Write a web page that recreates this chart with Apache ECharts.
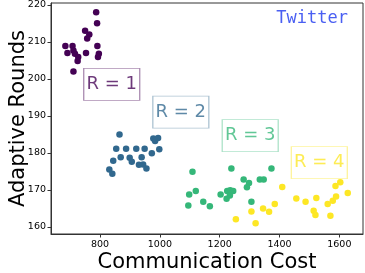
<!DOCTYPE html>
<html>
<head>
<meta charset="utf-8">
<script src="https://cdn.jsdelivr.net/npm/echarts@6/dist/echarts.min.js"></script>
<style>html,body{margin:0;padding:0;background:#fff}#c{width:365px;height:273px}</style>
</head>
<body>
<div id="c"></div>
<script>
// ---- data ----
var xTicks = [800, 1000, 1200, 1400, 1600];
var yTicks = [160, 170, 180, 190, 200, 210, 220];
var xLabel = 'Communication Cost';
var yLabel = 'Adaptive Rounds';
var datasetName = 'Twitter';
var groupNames = ['R = 1', 'R = 2', 'R = 3', 'R = 4'];
var groupColors = ['#440154', '#31688e', '#35b779', '#fde725'];
var groupText = ['rgba(68,1,84,0.78)', 'rgba(49,104,142,0.78)', 'rgba(53,183,121,0.78)', 'rgba(253,231,37,0.78)'];
var groupBorders = ['rgba(68,1,84,0.45)', 'rgba(49,104,142,0.4)', 'rgba(53,183,121,0.4)', 'rgba(253,231,37,0.45)'];

var r1x = [787, 790, 750, 764, 757, 791, 684, 708, 691, 711, 716, 796, 793, 753, 727, 725, 711];
var r1y = [218.0, 215.0, 213.0, 212.0, 210.9, 208.9, 208.9, 208.9, 207.0, 207.7, 206.8, 206.8, 205.9, 207.0, 205.9, 204.8, 202.0];

var r2x = [865, 978, 984, 994, 854, 887, 921, 949, 998, 973, 844, 869, 899, 906, 939, 930, 944, 955, 831, 841];
var r2y = [185.0, 183.9, 183.2, 184.0, 181.1, 181.1, 181.1, 181.1, 181.0, 179.9, 177.9, 178.8, 178.7, 177.6, 178.8, 176.8, 176.9, 175.8, 175.5, 174.4];

var r3x = [1109, 1239, 1373, 1280, 1298, 1291, 1334, 1347, 1098, 1120, 1095, 1145, 1167, 1203, 1225, 1235, 1245, 1223, 1234, 1306];
var r3y = [174.9, 175.8, 175.8, 172.8, 171.9, 170.7, 172.8, 172.8, 168.8, 169.7, 165.8, 166.8, 165.6, 168.8, 169.7, 169.9, 169.7, 167.6, 168.5, 166.8];

var r4x = [1409, 1456, 1487, 1523, 1345, 1365, 1384, 1514, 1520, 1561, 1578, 1589, 1587, 1603, 1628, 1570, 1254, 1320, 1306];
var r4y = [170.8, 167.7, 166.8, 167.8, 165.0, 164.1, 166.2, 164.4, 163.2, 166.2, 167.1, 168.2, 171.1, 172.1, 169.2, 163.0, 162.1, 161.0, 164.2];

// annotation anchor points (data coords)
var annX = [839, 1070, 1302, 1533];
var annY = [198.5, 191.0, 184.7, 177.4];

var xs = [r1x, r2x, r3x, r4x];
var ys = [r1y, r2y, r3y, r4y];

function pairs(a, b) { return a.map(function (v, i) { return [v, b[i]]; }); }

var series = groupNames.map(function (name, i) {
  return {
    type: 'scatter',
    name: name,
    data: pairs(xs[i], ys[i]),
    symbolSize: 6.5,
    itemStyle: { color: groupColors[i], opacity: 1 },
    z: 2,
    markPoint: {
      symbol: 'rect',
      symbolSize: [56, 32],
      silent: true,
      z: 5,
      itemStyle: { color: '#ffffff', borderColor: groupBorders[i], borderWidth: 1 },
      label: {
        show: true, position: 'inside', formatter: name,
        color: groupText[i], fontSize: 18, fontFamily: 'DejaVu Sans'
      },
      data: [{ coord: [annX[i], annY[i]] }]
    }
  };
});

function plain(v) { return String(v); }

var chart = echarts.init(document.getElementById('c'), null, { renderer: 'canvas' });
chart.setOption({
  animation: false,
  backgroundColor: '#ffffff',
  title: {
    text: datasetName, right: 12, top: 5,
    textStyle: { color: '#4a5ff2', fontSize: 17, fontWeight: 'normal', fontFamily: 'DejaVu Sans Mono' }
  },
  grid: { left: 51, right: 2, top: 3, bottom: 39, containLabel: false, outerBoundsMode: 'none',
          show: true, borderColor: '#333', borderWidth: 1, backgroundColor: 'transparent' },
  xAxis: {
    type: 'value', min: 636, max: 1679,
    name: xLabel, nameLocation: 'middle', nameGap: 18, nameMoveOverlap: false,
    nameTextStyle: { fontSize: 21, color: '#000', fontFamily: 'DejaVu Sans' },
    splitLine: { show: false },
    axisLine: { show: true, lineStyle: { color: '#333', width: 1 } },
    axisTick: { show: true, length: 3.5, lineStyle: { color: '#333' }, customValues: xTicks },
    axisLabel: { color: '#000', fontSize: 9.5, fontFamily: 'DejaVu Sans', margin: 6, customValues: xTicks, formatter: plain }
  },
  yAxis: {
    type: 'value', min: 158.1, max: 220.5,
    name: yLabel, nameLocation: 'middle', nameGap: 22, nameMoveOverlap: false,
    nameTextStyle: { fontSize: 21, color: '#000', fontFamily: 'DejaVu Sans' },
    splitLine: { show: false },
    axisLine: { show: true, lineStyle: { color: '#333', width: 1 } },
    axisTick: { show: true, length: 3.5, lineStyle: { color: '#333' }, customValues: yTicks },
    axisLabel: { color: '#000', fontSize: 9.5, fontFamily: 'DejaVu Sans', margin: 5, customValues: yTicks, formatter: plain }
  },
  series: series
});
</script>
</body>
</html>
